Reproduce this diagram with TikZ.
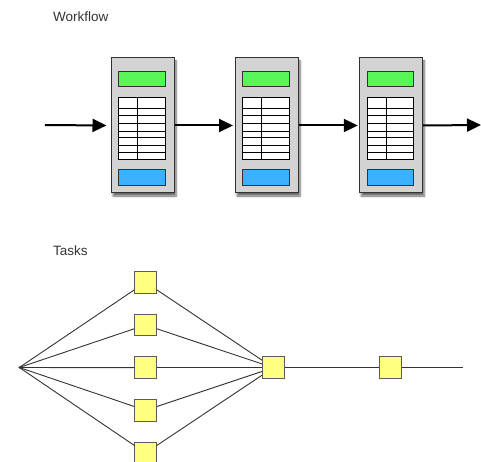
\documentclass[tikz,border=0pt]{standalone}
\usepackage{fontspec}
\setmainfont{Liberation Sans}
\usetikzlibrary{arrows.meta,shadows.blur}
\definecolor{boxgray}{RGB}{211,211,211}
\definecolor{bargreen}{RGB}{88,245,88}
\definecolor{barblue}{RGB}{58,176,255}
\definecolor{taskyellow}{RGB}{255,255,128}
\definecolor{ink}{RGB}{51,51,51}
\tikzset{
  title/.style={anchor=base west,inner sep=0pt,text=ink,font=\fontsize{13.5}{16}\selectfont},
  wfbox/.style={draw=ink,fill=boxgray,line width=1pt,minimum width=63pt,minimum height=135pt,inner sep=0pt,
    blur shadow={shadow xshift=2pt,shadow yshift=-3pt,shadow blur steps=6,shadow opacity=60}},
  greenbar/.style={draw=ink,fill=bargreen,line width=0.9pt},
  bluebar/.style={draw=ink,fill=barblue,line width=0.9pt},
  tbl/.style={draw=black,fill=white,line width=0.9pt},
  flow/.style={line width=2pt,-{Triangle[length=14pt,width=13pt]}},
  task/.style={draw=ink!80,fill=taskyellow,line width=1pt,minimum size=21.5pt,inner sep=0pt},
  link/.style={draw=ink,line width=0.9pt}
}
\begin{document}
\begin{tikzpicture}[x=1pt,y=-1pt]
\useasboundingbox (0,0) rectangle (481,462);
\node[title] (wtitle) at (53,21.5) {Workflow};
\node[title] (ttitle) at (53,255) {Tasks};

\node[wfbox] (b1) at (142.5,125.5) {};
\node[wfbox] (b2) at (266.5,125.5) {};
\node[wfbox] (b3) at (390.8,125.5) {};
\foreach \b in {b1,b2,b3}{
  \path[greenbar] (\b.north west) ++(8.3,13.7) rectangle ++(46.4,15.6);
  \path[bluebar] (\b.north west) ++(8.3,112) rectangle ++(46.4,15.7);
  \path[tbl] (\b.north west) ++(8.3,39.7) rectangle ++(46.4,62.3);
  \foreach \yy in {51,58,65.7,73.7,80.3,87.7,94.7}
    \draw[line width=0.9pt] (\b.north west) ++(8.3,\yy) -- ++(46.4,0);
  \draw[line width=0.9pt] (\b.north west) ++(27.3,39.7) -- ++(0,62.3);
}
\coordinate (fin) at (45,125);
\coordinate (fout) at (481,125);
\draw[flow] (fin) -- ([xshift=-4pt]b1.west);
\draw[flow] (b1.east) -- ([xshift=-1.5pt]b2.west);
\draw[flow] (b2.east) -- ([xshift=-1pt]b3.west);
\draw[flow] (b3.east) -- (fout);

\coordinate (src) at (19.3,367.5);
\node[task] (t1) at (145.5,282.3) {};
\node[task] (t2) at (145.5,325) {};
\node[task] (t3) at (145.5,367.7) {};
\node[task] (t4) at (145.5,410.3) {};
\node[task] (t5) at (145.5,453) {};
\node[task] (hub) at (273.3,367.7) {};
\node[task] (r1) at (390.3,367.7) {};
\coordinate (tend) at (463.3,367.7);
\foreach \t in {t1,t2,t3,t4,t5}{
  \draw[link] (src) -- (\t);
  \draw[link] (\t) -- (hub);
}
\draw[link] (hub) -- (r1);
\draw[link] (r1) -- (tend);
\fill[ink] (src) circle (1pt);
\end{tikzpicture}
\end{document}
